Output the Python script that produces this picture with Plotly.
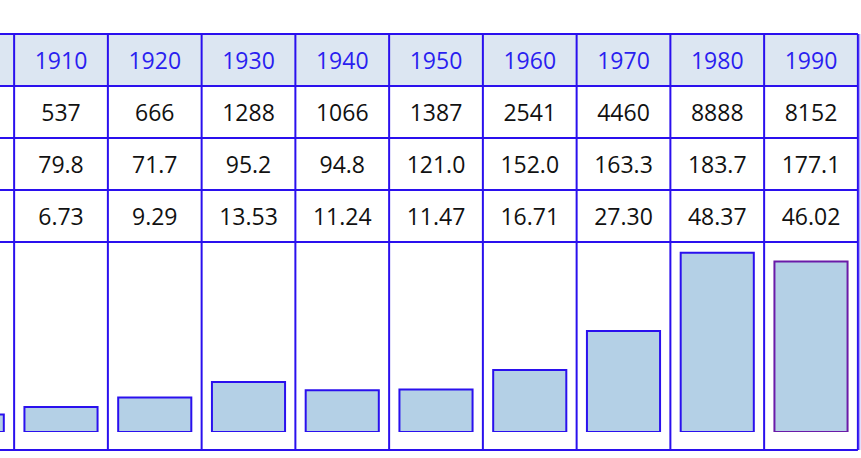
import plotly.graph_objects as go

# ---- data ----
years = [1910, 1920, 1930, 1940, 1950, 1960, 1970, 1980, 1990]
row1 = [537, 666, 1288, 1066, 1387, 2541, 4460, 8888, 8152]
row2 = [79.8, 71.7, 95.2, 94.8, 121.0, 152.0, 163.3, 183.7, 177.1]
row3 = [6.73, 9.29, 13.53, 11.24, 11.47, 16.71, 27.30, 48.37, 46.02]
# partially visible column at the left edge (only its bar shows)
bar_years = [1900] + years
bar_values = [4.7] + row3

W, H = 861, 458
LINE = "#2a10ee"
HEAD_FILL = "#dce6f2"
HEAD_TEXT = "#2a1ef0"
BAR_FILL = "#b4d0e6"
FONT = "Open Sans"

col_w = 93.75
x0_year = 1910 - 61 / col_w * 10
x1_year = 1910 + (W - 61) / col_w * 10

fig = go.Figure()

shapes = [dict(type="rect", xref="x", yref="y", x0=x0_year, x1=1995, y0=34, y1=86,
               fillcolor=HEAD_FILL, line_width=0, layer="below")]
for yy in [34, 86, 138, 190, 242, 450]:
    shapes.append(dict(type="line", xref="x", yref="y", x0=x0_year, x1=1995, y0=yy, y1=yy,
                       line=dict(color=LINE, width=2)))
for k in range(10):
    xb = 1905 + 10 * k
    shapes.append(dict(type="line", xref="x", yref="y", x0=xb, x1=xb, y0=34, y1=450,
                       line=dict(color=LINE, width=2)))
shapes.append(dict(type="line", xref="x", yref="y", x0=1995.2, x1=1995.2, y0=34, y1=450,
                   line=dict(color="#8f80f5", width=1)))

rows = [
    ([str(y) for y in years], 63, HEAD_TEXT),
    ([str(v) for v in row1], 115, "#111111"),
    ([f"{v:.1f}" for v in row2], 167, "#111111"),
    ([f"{v:.2f}" for v in row3], 219, "#111111"),
]
for texts, yy, col in rows:
    fig.add_trace(go.Scatter(x=years, y=[yy] * len(years), mode="text", text=texts,
                             textfont=dict(family=FONT, size=23, color=col),
                             hoverinfo="skip", showlegend=False, yaxis="y"))

line_colors = [LINE] * (len(bar_years) - 1) + ["#6a1aa8"]
fig.add_trace(go.Bar(x=bar_years, y=bar_values, width=7.8, yaxis="y2",
                     marker=dict(color=BAR_FILL, line=dict(color=line_colors, width=2)),
                     showlegend=False, hoverinfo="skip"))

fig.update_layout(
    width=W, height=H,
    margin=dict(l=0, r=0, t=0, b=0),
    paper_bgcolor="white", plot_bgcolor="white",
    shapes=shapes,
    xaxis=dict(range=[x0_year, x1_year], visible=False, fixedrange=True),
    yaxis=dict(range=[H, 0], visible=False, domain=[0, 1]),
    yaxis2=dict(range=[0, 51.3], visible=False, domain=[(H - 432) / H, (H - 242) / H],
                anchor="x"),
)

fig.write_html("out.html", config={"displayModeBar": False},
               post_script="document.body.style.margin='0';document.body.style.overflow='hidden';")
